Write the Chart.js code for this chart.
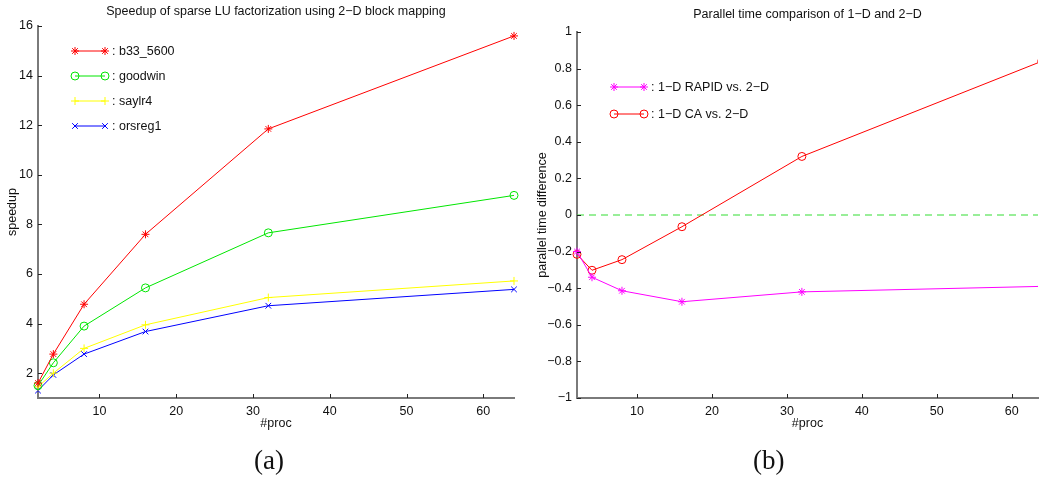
<!DOCTYPE html>
<html lang="en">
<head>
<meta charset="UTF-8"/>
<title>Speedup and parallel time</title>
<script src="https://cdn.jsdelivr.net/npm/chart.js"></script>
<style>
  html, body { margin: 0; padding: 0; background: #fff; }
  .wrap { position: relative; width: 1039px; height: 477px; overflow: hidden; }
  #speedChart { position: absolute; left: 0; top: 0; }
  #diffChart { position: absolute; left: 530px; top: 0; }
  .cap { position: absolute; top: 445px; font-family: "Liberation Serif", "DejaVu Serif", serif; font-size: 27px; color: #111; }
</style>
</head>
<body>
<div class="wrap">
  <canvas id="speedChart" width="530" height="477"></canvas>
  <canvas id="diffChart" width="513" height="477"></canvas>
  <div class="cap" style="left:254px">(a)</div>
  <div class="cap" style="left:753px">(b)</div>
</div>

<script>
// ---- (a) speedup data ----
const procs = [2, 4, 8, 16, 32, 64];
const b33_5600 = [1.6, 2.77, 4.78, 7.6, 11.85, 15.6];
const goodwin  = [1.5, 2.42, 3.9, 5.44, 7.66, 9.17];
const saylr4   = [1.45, 2.0, 3.0, 3.95, 5.05, 5.72];
const orsreg1  = [1.3, 1.93, 2.77, 3.68, 4.72, 5.38];
const speedTicksX = [10, 20, 30, 40, 50, 60];
const speedTicksY = [2, 4, 6, 8, 10, 12, 14, 16];

// ---- (b) parallel time difference ----
const rapidVs2D = [-0.20, -0.34, -0.414, -0.474, -0.42, -0.39];
const caVs2D    = [-0.215, -0.302, -0.244, -0.064, 0.32, 0.84];
const zeroX = [2, 64];
const zeroY = [0, 0];
const diffTicksX = [10, 20, 30, 40, 50, 60];
const diffTicksY = [-1, -0.8, -0.6, -0.4, -0.2, 0, 0.2, 0.4, 0.6, 0.8, 1];

const FONT = '"Liberation Sans", Arial, Helvetica, sans-serif';
const FS = 12.5;
const pts = (xs, ys) => xs.map((x, i) => ({x: x, y: ys[i]}));
const fmt = v => String(Math.round(v * 10) / 10).replace('-', '\u2212');

// matlab-like marker, same shapes as chart.js point styles
function marker(ctx, style, x, y, r, color) {
  ctx.save();
  ctx.strokeStyle = color;
  ctx.lineWidth = 1;
  ctx.beginPath();
  if (style === 'circle') {
    ctx.arc(x, y, r, 0, Math.PI * 2);
  } else {
    const d = r * Math.SQRT1_2;
    if (style === 'cross' || style === 'star') {
      ctx.moveTo(x - r, y); ctx.lineTo(x + r, y);
      ctx.moveTo(x, y - r); ctx.lineTo(x, y + r);
    }
    if (style === 'crossRot' || style === 'star') {
      ctx.moveTo(x - d, y - d); ctx.lineTo(x + d, y + d);
      ctx.moveTo(x - d, y + d); ctx.lineTo(x + d, y - d);
    }
  }
  ctx.stroke();
  ctx.restore();
}

// legend drawn inside the axes: line with a marker at each end, then ": name"
const lineLegend = {
  id: 'lineLegend',
  afterDatasetsDraw(chart, args, opts) {
    const ctx = chart.ctx;
    const a = chart.chartArea;
    let y = a.top + opts.top;
    chart.data.datasets.forEach(ds => {
      if (!ds.inLegend) return;
      const x1 = a.left + opts.left, x2 = x1 + 30;
      ctx.save();
      ctx.strokeStyle = ds.borderColor;
      ctx.lineWidth = 1;
      ctx.beginPath(); ctx.moveTo(x1, y); ctx.lineTo(x2, y); ctx.stroke();
      marker(ctx, ds.pointStyle, x1, y, ds.pointRadius, ds.borderColor);
      marker(ctx, ds.pointStyle, x2, y, ds.pointRadius, ds.borderColor);
      ctx.fillStyle = '#111';
      ctx.font = FS + 'px ' + FONT;
      ctx.textBaseline = 'middle';
      ctx.fillText(': ' + ds.label, x2 + 7, y + 1);
      ctx.restore();
      y += opts.step;
    });
  }
};

// title centred over the axes rather than the whole canvas
const axesTitle = {
  id: 'axesTitle',
  afterDraw(chart, args, opts) {
    const ctx = chart.ctx;
    const a = chart.chartArea;
    ctx.save();
    ctx.fillStyle = '#111';
    ctx.font = FS + 'px ' + FONT;
    ctx.textAlign = 'center';
    ctx.textBaseline = 'middle';
    ctx.fillText(opts.text, (a.left + a.right) / 2, opts.y);
    ctx.restore();
  }
};

// short tick marks pointing into the plot
const innerTicks = {
  id: 'innerTicks',
  afterDraw(chart) {
    const ctx = chart.ctx;
    const a = chart.chartArea;
    ctx.save();
    ctx.strokeStyle = '#222';
    ctx.lineWidth = 1;
    ctx.beginPath();
    chart.scales.x.ticks.forEach(t => {
      const px = Math.round(chart.scales.x.getPixelForValue(t.value)) + 0.5;
      ctx.moveTo(px, a.bottom); ctx.lineTo(px, a.bottom - 4);
    });
    chart.scales.y.ticks.forEach(t => {
      const py = Math.round(chart.scales.y.getPixelForValue(t.value)) + 0.5;
      ctx.moveTo(a.left, py); ctx.lineTo(a.left + 4, py);
    });
    ctx.stroke();
    ctx.restore();
  }
};

function series(label, ys, color, style, clip) {
  return {
    label: label, data: pts(procs, ys), inLegend: true,
    borderColor: color, backgroundColor: color, borderWidth: 1,
    pointStyle: style, pointRadius: 4, pointBorderColor: color,
    pointBackgroundColor: 'rgba(0,0,0,0)', pointBorderWidth: 1,
    tension: 0, clip: clip
  };
}

function axes(xr, yr, xTicks, yTicks, yTitle, yWidth) {
  const border = {display: true, color: '#7a7a7a', width: 2};
  return {
    x: {
      type: 'linear', min: xr[0], max: xr[1],
      afterBuildTicks: s => { s.ticks = xTicks.map(v => ({value: v})); },
      afterFit: s => { s.height = 79; },
      grid: {display: false, drawTicks: false},
      border: border,
      ticks: {color: '#111', padding: 6, font: {family: FONT, size: FS}, maxRotation: 0},
      title: {display: true, text: '#proc', color: '#111', font: {family: FONT, size: FS}, padding: {top: 0, bottom: 46}}
    },
    y: {
      type: 'linear', min: yr[0], max: yr[1],
      afterBuildTicks: s => { s.ticks = yTicks.map(v => ({value: v})); },
      afterFit: s => { s.width = yWidth; },
      grid: {display: false, drawTicks: false},
      border: border,
      ticks: {color: '#111', padding: 5, font: {family: FONT, size: FS}, callback: v => fmt(v)},
      title: {display: true, text: yTitle, color: '#111', font: {family: FONT, size: FS}, padding: {top: 5, bottom: 0}}
    }
  };
}

const noClip = false;
const clipRight = {left: false, top: false, right: 0, bottom: false};

new Chart(document.getElementById('speedChart').getContext('2d'), {
  type: 'line',
  data: {
    datasets: [
      series('b33_5600', b33_5600, '#ff0000', 'star', noClip),
      series('goodwin', goodwin, '#00e600', 'circle', noClip),
      series('saylr4', saylr4, '#ffff00', 'cross', noClip),
      series('orsreg1', orsreg1, '#0000ff', 'crossRot', noClip)
    ]
  },
  options: {
    responsive: false, animation: false,
    layout: {padding: {left: 0, right: 16, top: 26, bottom: 0}},
    scales: axes([2, 64], [1, 16], speedTicksX, speedTicksY, 'speedup', 38),
    plugins: {
      legend: {display: false}, tooltip: {enabled: false},
      axesTitle: {text: 'Speedup of sparse LU factorization using 2\u2212D block mapping', y: 12},
      lineLegend: {left: 37, top: 25, step: 25}
    }
  },
  plugins: [lineLegend, innerTicks, axesTitle]
});

new Chart(document.getElementById('diffChart').getContext('2d'), {
  type: 'line',
  data: {
    datasets: [
      series('1\u2212D RAPID vs. 2\u2212D', rapidVs2D, '#ff00ff', 'star', clipRight),
      series('1\u2212D CA vs. 2\u2212D', caVs2D, '#ff0000', 'circle', clipRight),
      {
        label: 'zero', data: pts(zeroX, zeroY), inLegend: false,
        borderColor: '#33dd33', borderWidth: 1, borderDash: [7, 5],
        pointRadius: 0, clip: clipRight
      }
    ]
  },
  options: {
    responsive: false, animation: false,
    layout: {padding: {left: 0, right: 0, top: 32, bottom: 0}},
    scales: axes([2, 63.5], [-1, 1], diffTicksX, diffTicksY, 'parallel time difference', 47),
    plugins: {
      legend: {display: false}, tooltip: {enabled: false},
      axesTitle: {text: 'Parallel time comparison of 1\u2212D and 2\u2212D', y: 15},
      lineLegend: {left: 37, top: 55, step: 27}
    }
  },
  plugins: [lineLegend, innerTicks, axesTitle]
});
</script>
</body>
</html>
